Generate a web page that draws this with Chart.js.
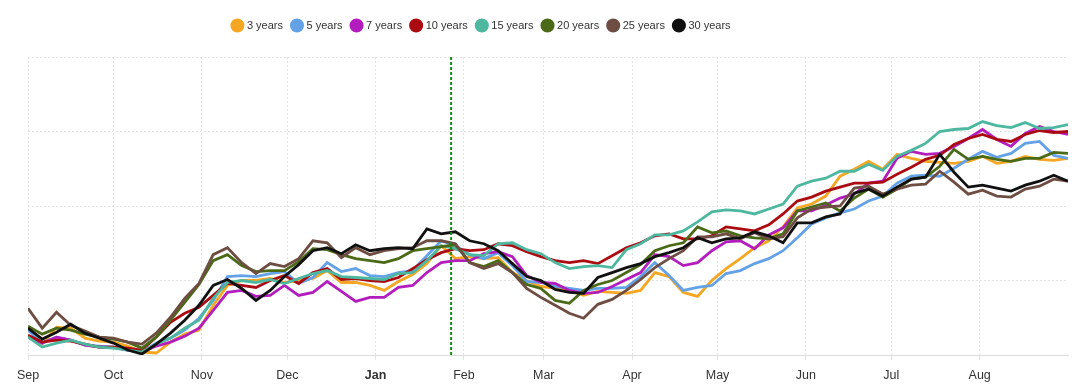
<!DOCTYPE html>
<html><head><meta charset="utf-8">
<script src="https://cdn.jsdelivr.net/npm/chart.js@4.4.1/dist/chart.umd.min.js"></script>
<style>html,body{margin:0;padding:0;background:#fff;}canvas{display:block;}</style>
</head><body>
<canvas id="c" width="1081" height="391"></canvas>
<script>
const seriesNames = ['3 years','5 years','7 years','10 years','15 years','20 years','25 years','30 years'];
const seriesColors = ['#F5A623','#64A2E8','#B31DBD','#AA0C12','#4DB89F','#4A6A17','#6E4D42','#111111'];
const monthDays = [0,30,61,91,122,153,181,212,242,273,303,334];
const monthLabels = ['Sep','Oct','Nov','Dec','Jan','Feb','Mar','Apr','May','Jun','Jul','Aug'];
const boldMonth = 'Jan';
const markerDay = 148.5;
const days = [0,5,10,15,20,25,30,35,40,45,50,55,60,65,70,75,80,85,90,95,100,105,110,115,120,125,130,135,140,145,150,155,160,165,170,175,180,185,190,195,200,205,210,215,220,225,230,235,240,245,250,255,260,265,270,275,280,285,290,295,300,305,310,315,320,325,330,335,340,345,350,355,360,365];

const y3 = [18,11,28,27,17,14,13,9,3,2, 13,21,25,50,70,75,75,77,73,75, 77,85,73,73,70,65,74,81,92,110, 97,99,97,98,83,75,69,67,65,60, 64,63,62,65,83,79,63,59,75,87, 97,108,115,129,148,152,160,180,187,195, 187,202,198,195,194,193,195,200,193,195, 200,197,196,198];
const y5 = [25,12,18,15,10,9,8,5,3,12, 17,25,37,55,79,80,79,82,84,72, 78,93,84,87,80,79,83,85,100,115, 110,101,97,103,90,74,73,69,67,65, 67,67,68,79,93,80,65,68,70,82, 85,92,97,105,118,132,138,143,147,155, 160,173,180,181,180,188,197,205,199,203, 213,215,201,198];
const y7 = [18,12,18,15,10,8,8,5,3,9, 13,19,27,45,63,65,59,60,70,60, 63,74,64,54,58,58,68,70,83,93, 95,95,102,104,99,80,73,72,65,62, 63,69,76,83,101,99,90,93,105,114, 115,107,121,128,145,145,151,158,162,173, 175,198,205,202,203,210,218,227,217,210, 223,230,225,222];
const y10 = [20,13,15,14,11,8,8,7,5,18, 33,42,48,60,72,70,68,75,80,72, 83,87,76,77,75,74,78,87,96,103, 107,105,106,112,110,104,99,95,93,95, 92,100,108,113,120,122,117,117,120,129, 127,125,131,142,155,159,165,169,173,173, 174,182,189,197,201,212,218,222,217,215, 222,226,224,225];
const y15 = [18,8,12,15,11,8,7,5,3,11, 17,27,35,57,73,75,73,76,72,77, 82,85,79,78,77,76,82,83,95,110, 107,101,100,112,113,106,102,93,87,89, 90,88,106,112,121,121,125,134,144,146, 145,142,147,152,170,175,178,185,185,192, 186,200,206,213,225,227,228,235,231,229, 234,228,229,232];
const y20 = [29,21,27,25,21,18,16,13,7,18, 35,53,71,95,101,90,84,85,85,94, 107,106,101,97,95,93,97,105,107,109, 111,93,89,95,83,71,67,55,52,65, 71,75,83,91,105,110,113,129,123,125, 120,118,117,122,145,149,153,145,158,167, 159,167,177,179,190,207,197,200,197,195, 198,198,204,203];
const y25 = [47,27,43,30,24,18,17,13,11,22, 38,57,72,101,108,93,82,92,89,97, 115,113,98,108,101,105,107,108,115,115, 112,93,87,92,83,67,58,50,42,37, 51,56,65,76,88,97,105,119,119,122, 117,123,117,119,138,147,149,150,168,170, 162,167,171,172,185,174,162,166,160,159, 167,170,177,175];
const y30 = [27,16,23,31,22,17,12,5,1,11, 22,35,50,70,76,67,55,65,79,91, 105,108,102,111,105,107,108,107,127,122, 124,115,112,105,92,79,75,66,63,62, 78,83,88,92,99,103,108,118,113,117, 118,124,120,113,133,133,139,142,163,167, 160,169,177,179,202,184,169,171,168,165, 171,175,181,175];
const seriesValues = [y3,y5,y7,y10,y15,y20,y25,y30];

const FONT = "'Liberation Sans', Arial, sans-serif";
const gridColor = '#e3e3e3';
const legendShift = -66;
const legendExtra = 16;

const datasets = seriesValues.map((vals, i) => ({
  label: seriesNames[i],
  data: vals.map((v, j) => ({x: days[j], y: v})),
  borderColor: seriesColors[i],
  backgroundColor: seriesColors[i],
  borderWidth: 2.8,
  pointRadius: 0,
  pointHoverRadius: 0,
  tension: 0,
  fill: false,
  order: seriesValues.length - 1 - i
}));

const helperPlugin = {
  id: 'helper',
  beforeInit(chart) {
    const lg = chart.legend;
    const origFit = lg.fit;
    lg.fit = function () { origFit.call(this); this.height += legendExtra; };
  },
  afterLayout(chart) {
    chart.legend.left += legendShift;
    chart.legend.right += legendShift;
  },
  afterDatasetsDraw(chart) {
    const ctx = chart.ctx;
    const x = chart.scales.x.getPixelForValue(markerDay);
    const {top, bottom} = chart.chartArea;
    ctx.save();
    ctx.strokeStyle = '#178a17';
    ctx.lineWidth = 2;
    ctx.setLineDash([3, 2]);
    ctx.beginPath();
    ctx.moveTo(x, top);
    ctx.lineTo(x, bottom);
    ctx.stroke();
    ctx.restore();
  }
};

new Chart(document.getElementById('c'), {
  type: 'line',
  data: {datasets},
  options: {
    responsive: false,
    animation: false,
    devicePixelRatio: 1,
    layout: {padding: {left: 28, right: 13, top: 10, bottom: 0}},
    plugins: {
      legend: {
        position: 'top',
        align: 'center',
        labels: {
          usePointStyle: true,
          pointStyle: 'circle',
          boxWidth: 8,
          boxHeight: 8,
          padding: 10,
          color: '#333',
          font: {family: FONT, size: 11},
          sort: (a, b) => a.datasetIndex - b.datasetIndex
        }
      },
      tooltip: {enabled: false}
    },
    scales: {
      x: {
        type: 'linear',
        min: 0,
        max: 365,
        afterBuildTicks: (scale) => { scale.ticks = monthDays.map(v => ({value: v})); },
        ticks: {
          autoSkip: false,
          maxRotation: 0,
          padding: 8,
          color: '#333',
          callback: (value, index) => monthLabels[index],
          font: (ctx) => ({family: FONT, size: 12.5, weight: monthLabels[ctx.index] === boldMonth ? 'bold' : 'normal'})
        },
        grid: {display: true, color: gridColor, drawTicks: true, tickLength: 5, tickColor: gridColor},
        border: {display: true, color: '#dcdcdc', dash: [2, 2]}
      },
      y: {
        min: 0,
        max: 300,
        ticks: {display: false, stepSize: 75},
        grid: {display: true, color: gridColor, drawTicks: false},
        border: {display: false, dash: [2, 2]}
      }
    }
  },
  plugins: [helperPlugin]
});
</script>
</body></html>
